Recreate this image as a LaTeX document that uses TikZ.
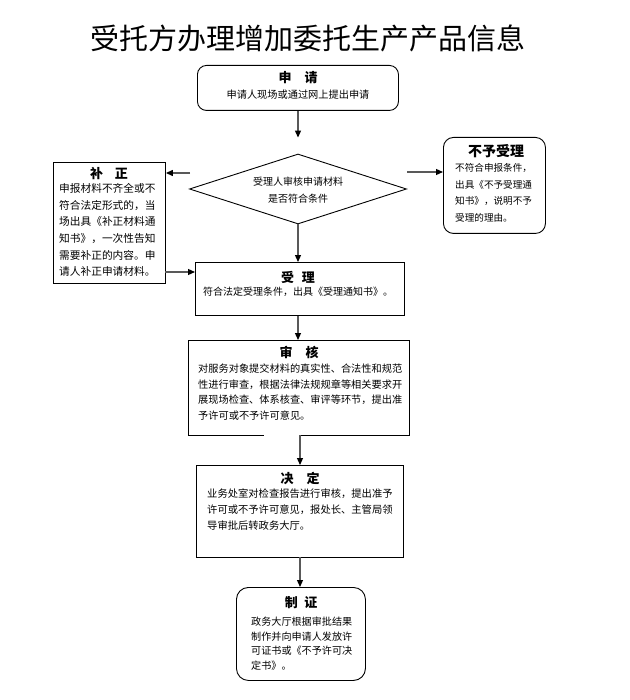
\documentclass[tikz,border=0pt]{standalone}
\usepackage{fontspec}
\setmainfont{Noto Sans CJK SC}
\usetikzlibrary{arrows.meta,shapes.geometric}
\tikzset{
  box/.style={draw, line width=0.9pt, inner sep=0pt, anchor=north west},
  rbox/.style={box, rounded corners=9pt},
  ttl/.style={font=\fontsize{13}{15}\selectfont\bfseries, inner sep=0pt},
  body/.style={inner sep=0pt, align=left, anchor=north west},
  conn/.style={draw=black!65, line width=1.2pt, -{Triangle[width=6pt,length=7pt,color=black]}},
}
\begin{document}
\begin{tikzpicture}[x=1pt,y=-1pt]
\useasboundingbox (0,0) rectangle (629,700);

\node[inner sep=0pt, font=\fontsize{29}{32}\selectfont] (title) at (308,38) {受托方办理增加委托生产产品信息};

% apply
\node[rbox, minimum width=201pt, minimum height=45pt] (apply) at (197,65) {};
\node[ttl] (applyt) at (298,78) {申\hspace{1em}请};
\node[inner sep=0pt, font=\fontsize{10.2}{12}\selectfont] (applyb) at (298,95) {申请人现场或通过网上提出申请};

% diamond
\node[draw, line width=0.9pt, diamond, inner sep=0pt, minimum width=217pt, minimum height=70pt] (check) at (298,189) {};
\node[inner sep=0pt, align=center, font=\fontsize{10}{17}\selectfont] (checkt) at (298,190) {受理人审核申请材料\\是否符合条件};

% fix box
\node[box, minimum width=112pt, minimum height=121pt] (fix) at (53,162) {};
\node[ttl] (fixt) at (109,174) {补\hspace{0.9em}正};
\node[body, font=\fontsize{10.7}{16.7}\selectfont] (fixb) at (59,183) {申报材料不齐全或不\\符合法定形式的，当\\场出具《补正材料通\\知书》，一次性告知\\需要补正的内容。申\\请人补正申请材料。};

% reject box
\node[rbox, rounded corners=10pt, minimum width=102pt, minimum height=96pt] (reject) at (443,137) {};
\node[ttl, font=\fontsize{14}{16}\selectfont\bfseries] (rejectt) at (496,151) {不予受理};
\node[body, font=\fontsize{9.6}{16.5}\selectfont] (rejectb) at (455,163.5) {不符合申报条件，\\出具《不予受理通\\知书》，说明不予\\受理的理由。};

% accept
\node[box, minimum width=209pt, minimum height=53pt] (accept) at (195,262) {};
\node[ttl] (acceptt) at (298,277) {受\hspace{0.6em}理};
\node[inner sep=0pt, font=\fontsize{10}{12}\selectfont] (acceptb) at (298,292) {符合法定受理条件，出具《受理通知书》。};

% review
\node[box, minimum width=221pt, minimum height=95pt] (review) at (188,340) {};
\node[ttl] (reviewt) at (299,352) {审\hspace{1em}核};
\node[body, font=\fontsize{10.2}{15.5}\selectfont] (reviewb) at (198,364) {对服务对象提交材料的真实性、合法性和规范\\性进行审查，根据法律法规规章等相关要求开\\展现场检查、体系核查、审评等环节，提出准\\予许可或不予许可意见。};
\draw[white, line width=2pt] (264,435) -- (299,435);

% decide
\node[box, minimum width=207pt, minimum height=92pt] (decide) at (196,465) {};
\node[ttl] (decidet) at (300,478) {决\hspace{1em}定};
\node[body, font=\fontsize{10.3}{15.8}\selectfont] (decideb) at (207,489) {业务处室对检查报告进行审核，提出准予\\许可或不予许可意见，报处长、主管局领\\导审批后转政务大厅。};

% make
\node[rbox, rounded corners=12pt, minimum width=129pt, minimum height=93pt] (make) at (236,587) {};
\node[ttl] (maket) at (301,603) {制\hspace{0.5em}证};
\node[body, font=\fontsize{10.1}{14.5}\selectfont] (makeb) at (251,617) {政务大厅根据审批结果\\制作并向申请人发放许\\可证书或《不予许可决\\定书》。};

% connectors
\draw[conn, shorten >=16pt] (apply.south -| check.north) -- (check.north);
\draw[conn] (check.south) -- (accept.north -| check.south);
\coordinate (l0) at (190,173);
\draw[conn] (l0) -- (fix.east |- l0);
\coordinate (r0) at (407,172);
\draw[conn] (r0) -- (reject.west |- r0);
\coordinate (f0) at (165,272);
\draw[conn] (f0) -- (accept.west |- f0);
\draw[conn] (accept.south -| check.south) -- (review.north -| check.south);
\coordinate (v0) at (300,435);
\draw[conn] (v0) -- (decide.north -| v0);
\coordinate (d0) at (300,557);
\draw[conn] (d0) -- (make.north -| d0);
\end{tikzpicture}
\end{document}
